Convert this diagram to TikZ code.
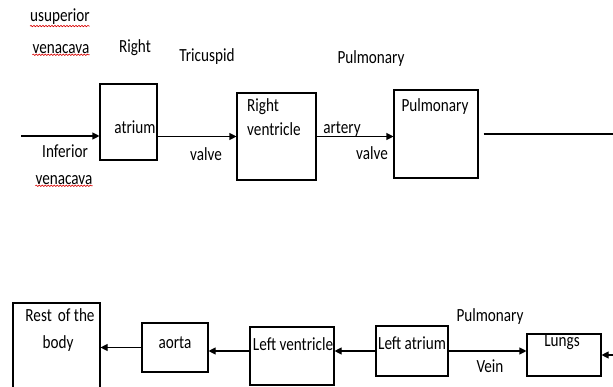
\documentclass[tikz,border=0pt]{standalone}
\usepackage{fontspec}
\setmainfont{Carlito}
\usetikzlibrary{arrows.meta,decorations.pathmorphing}
\newcommand{\tx}[1]{\scalebox{1}[1.22]{#1}}
\begin{document}
\begin{tikzpicture}[x=1pt,y=-1pt,
  box/.style={draw,line width=1.1pt,inner sep=0pt,minimum width=#1},
  lbl/.style={inner sep=0pt,font=\fontsize{15.2}{18}\selectfont},
  arr/.style={line width=1.1pt,-{Triangle[length=7pt,width=7pt]}},
  plain/.style={line width=1.1pt},
  squig/.style={red!85!black,line width=0.6pt,decorate,decoration={snake,amplitude=0.7pt,segment length=3pt}}]
\clip (0,0) rectangle (613,387);
\fill[white] (0,0) rectangle (613,387);
% boxes
\node[box=57pt,minimum height=76pt] (ra) at (128.5,122) {};
\node[box=79pt,minimum height=87pt] (rv) at (276.5,136.5) {};
\node[box=84pt,minimum height=88pt] (pa) at (436,134) {};
\node[box=87pt,minimum height=100pt] (rest) at (56.5,353) {};
\node[box=66pt,minimum height=49pt] (ao) at (175,347.5) {};
\node[box=84pt,minimum height=58pt] (lv) at (292,356) {};
\node[box=72pt,minimum height=50pt] (la) at (412,351) {};
\node[box=74pt,minimum height=42pt] (lu) at (564,355) {};
% free ends
\coordinate (inA) at (21,136);
\coordinate (outA) at (613,134);
\coordinate (inL) at (613,355);
% connectors
\draw[arr] (inA) -- (inA -| ra.west);
\draw[arr] (ra.east |- rv.west) -- (rv.west);
\draw[arr] (rv.east) -- (rv.east -| pa.west);
\draw[plain] ([xshift=5pt]pa.east) -- (outA);
\draw[arr] (ao.west) -- (ao.west -| rest.east);
\draw[arr] (lv.west |- la.west) -- (lv.west |- la.west -| ao.east);
\draw[arr] (la.west) -- (la.west -| lv.east);
\draw[arr] (la.east) -- (la.east -| lu.west);
\draw[arr] (inL) -- (lu.east);
% labels
\node[lbl] (t1) at (60,17) {\tx{usuperior}};
\node[lbl] (t2) at (61,49) {\tx{venacava}};
\node[lbl] (t3) at (135,48) {\tx{Right}};
\node[lbl] (t4) at (207,57) {\tx{Tricuspid}};
\node[lbl] (t5) at (135,127) {\tx{atrium}};
\node[lbl] (t6) at (65,151) {\tx{Inferior}};
\node[lbl] (t7) at (64,180) {\tx{venacava}};
\node[lbl] (t8) at (206,154) {\tx{valve}};
\node[lbl,anchor=west] (t9) at (247,107) {\tx{Right}};
\node[lbl,anchor=west] (t10) at (247,129) {\tx{ventricle}};
\node[lbl] (t11) at (435,107) {\tx{Pulmonary}};
\node[lbl] (t12) at (342,129) {\tx{artery}};
\node[lbl] (t13) at (372,153) {\tx{valve}};
\node[lbl] (t14) at (371,59) {\tx{Pulmonary}};
\node[lbl] (t15) at (60,315) {\tx{Rest\, of the}};
\node[lbl] (t16) at (58,344) {\tx{body}};
\node[lbl] (t17) at (175,343) {\tx{aorta}};
\node[lbl] (t18) at (293,344) {\tx{Left ventricle}};
\node[lbl] (t19) at (412,343) {\tx{Left atrium}};
\node[lbl] (t20) at (562,342) {\tx{Lungs}};
\node[lbl] (t21) at (490,317) {\tx{Pulmonary}};
\node[lbl] (t22) at (490,366) {\tx{Vein}};
% spell-check underlines
\draw[squig] ([yshift=-1pt]t1.south west) -- ([yshift=-1pt]t1.south east);
\draw[squig] ([yshift=-1pt]t2.south west) -- ([yshift=-1pt]t2.south east);
\draw[squig] ([yshift=-1pt]t7.south west) -- ([yshift=-1pt]t7.south east);
\end{tikzpicture}
\end{document}
